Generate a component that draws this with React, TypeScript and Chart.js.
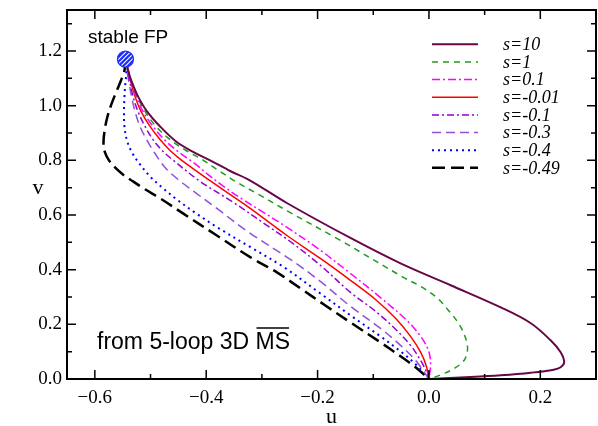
import React, { useEffect, useRef } from 'react';
import { Chart, registerables } from 'chart.js';

Chart.register(...registerables);

// ---- data (u, v) ----
const fixedPoint: [number, number] = [-0.545, 1.17];

const curveS10: [number, number][] = [
  [-0.545, 1.17], [-0.5405, 1.129], [-0.5333, 1.085], [-0.5225, 1.034], [-0.5063, 0.979],
  [-0.4829, 0.924], [-0.4541, 0.869], [-0.4236, 0.831], [-0.393, 0.8], [-0.357, 0.761],
  [-0.321, 0.726], [-0.2545, 0.643], [-0.141, 0.516], [-0.051, 0.423], [0.039, 0.343],
  [0.129, 0.262], [0.183, 0.204], [0.2185, 0.1415], [0.2365, 0.0976], [0.2428, 0.061],
  [0.2365, 0.043], [0.224, 0.034], [0.183, 0.023], [0.129, 0.0135], [0.075, 0.007], [0, 0],
];
const curveS1: [number, number][] = [
  [-0.545, 1.17], [-0.5405, 1.129], [-0.5342, 1.085], [-0.5243, 1.034], [-0.5099, 0.979],
  [-0.4901, 0.924], [-0.4649, 0.876], [-0.4362, 0.836], [-0.405, 0.8], [-0.375, 0.759],
  [-0.3444, 0.719], [-0.303, 0.672], [-0.2545, 0.615], [-0.159, 0.507], [-0.046, 0.372],
  [-0.0153, 0.339], [0.0135, 0.299], [0.0351, 0.251], [0.0531, 0.204], [0.0639, 0.16],
  [0.0692, 0.12], [0.0674, 0.087], [0.0603, 0.061], [0.0423, 0.035], [0.0207, 0.015], [0, 0],
];
const curveS01: [number, number][] = [
  [-0.545, 1.17], [-0.5405, 1.129], [-0.5351, 1.085], [-0.5261, 1.034], [-0.5135, 0.979],
  [-0.4955, 0.924], [-0.4739, 0.873], [-0.4505, 0.832], [-0.423, 0.792], [-0.3966, 0.748],
  [-0.3691, 0.705], [-0.339, 0.663], [-0.303, 0.617], [-0.255, 0.555], [-0.195, 0.471],
  [-0.141, 0.386], [-0.087, 0.298], [-0.04, 0.215], [-0.015, 0.156], [-0.001, 0.105],
  [0.003, 0.057], [0, 0],
];
const curveSm001: [number, number][] = [
  [-0.545, 1.17], [-0.5396, 1.129], [-0.5351, 1.085], [-0.5279, 1.034], [-0.5171, 0.979],
  [-0.5009, 0.924], [-0.4829, 0.876], [-0.4649, 0.836], [-0.4439, 0.8], [-0.3809, 0.708],
  [-0.321, 0.624], [-0.255, 0.525], [-0.195, 0.441], [-0.141, 0.361], [-0.096, 0.291],
  [-0.06, 0.222], [-0.033, 0.156], [-0.015, 0.098], [-0.0045, 0.046], [0, 0],
];
const curveSm01: [number, number][] = [
  [-0.545, 1.17], [-0.5414, 1.129], [-0.5369, 1.085], [-0.5315, 1.034], [-0.5225, 0.979],
  [-0.5099, 0.924], [-0.4955, 0.876], [-0.4793, 0.836], [-0.459, 0.8], [-0.411, 0.723],
  [-0.3511, 0.646], [-0.291, 0.562], [-0.2491, 0.503], [-0.195, 0.416], [-0.141, 0.317],
  [-0.096, 0.248], [-0.06, 0.182], [-0.033, 0.123], [-0.015, 0.068], [-0.004, 0.024], [0, 0],
];
const curveSm03: [number, number][] = [
  [-0.545, 1.17], [-0.5423, 1.129], [-0.5387, 1.085], [-0.5342, 1.034], [-0.5279, 0.979],
  [-0.5189, 0.924], [-0.5063, 0.873], [-0.4919, 0.825], [-0.4739, 0.774], [-0.4505, 0.73],
  [-0.42, 0.683], [-0.3809, 0.624], [-0.321, 0.533], [-0.2491, 0.438], [-0.195, 0.357],
  [-0.141, 0.266], [-0.087, 0.185], [-0.051, 0.123], [-0.024, 0.068], [0, 0],
];
const curveSm04: [number, number][] = [
  [-0.545, 1.17], [-0.5432, 1.129], [-0.545, 1.085], [-0.5468, 1.034], [-0.5477, 0.979],
  [-0.5468, 0.924], [-0.5423, 0.873], [-0.5333, 0.829], [-0.5189, 0.785], [-0.5009, 0.741],
  [-0.4793, 0.701], [-0.4529, 0.657], [-0.4182, 0.606], [-0.3809, 0.556], [-0.321, 0.483],
  [-0.2611, 0.41], [-0.195, 0.313], [-0.141, 0.233], [-0.087, 0.156], [-0.051, 0.101],
  [-0.024, 0.054], [0, 0],
];
const curveSm049: [number, number][] = [
  [-0.545, 1.17], [-0.5468, 1.129], [-0.5531, 1.092], [-0.562, 1.048], [-0.571, 1.001],
  [-0.5782, 0.953], [-0.5827, 0.906], [-0.5845, 0.862], [-0.5818, 0.829], [-0.5746, 0.8],
  [-0.5638, 0.774], [-0.5495, 0.748], [-0.5315, 0.723], [-0.5099, 0.694], [-0.4829, 0.661],
  [-0.441, 0.605], [-0.3809, 0.525], [-0.321, 0.446], [-0.273, 0.39], [-0.231, 0.332],
  [-0.186, 0.269], [-0.141, 0.207], [-0.087, 0.134], [-0.051, 0.083], [-0.024, 0.043], [0, 0],
];

const seriesLabels = ['s=10', 's=1', 's=0.1', 's=-0.01', 's=-0.1', 's=-0.3', 's=-0.4', 's=-0.49'];
const seriesData = [curveS10, curveS1, curveS01, curveSm001, curveSm01, curveSm03, curveSm04, curveSm049];

const xTickValues = [-0.6, -0.4, -0.2, 0.0, 0.2];
const yTickValues = [0.0, 0.2, 0.4, 0.6, 0.8, 1.0, 1.2];
const xMinorValues = [-0.5, -0.3, -0.1, 0.1];
const yMinorValues = [0.1, 0.3, 0.5, 0.7, 0.9, 1.1, 1.3];

const xLabel = 'u';
const yLabel = 'v';
const fpLabel = 'stable FP';
const noteText = 'from 5-loop 3D ';
const noteOver = 'MS';

// ---- styles ----
const styles = [
  { color: '#670748', width: 2, dash: [] as number[] },
  { color: '#1f9a1f', width: 1.5, dash: [6, 5] },
  { color: '#ff00ff', width: 1.5, dash: [8, 3, 2, 3] },
  { color: '#ff0000', width: 1.5, dash: [] as number[] },
  { color: '#9400d3', width: 1.5, dash: [7, 3, 2, 3] },
  { color: '#9050d8', width: 1.5, dash: [9, 5] },
  { color: '#0000ff', width: 2, dash: [2, 4] },
  { color: '#000000', width: 2.5, dash: [13, 6] },
];

const fmt = (v: number) => (v < 0 ? '\u2212' : '') + Math.abs(v).toFixed(1);

const overlay = {
  id: 'overlay',
  afterDatasetsDraw(chart: any) {
    const { ctx, chartArea: a, scales } = chart;
    const xs = scales.x;
    const ys = scales.y;
    ctx.save();
    ctx.strokeStyle = '#000';
    ctx.lineWidth = 2;
    ctx.strokeRect(a.left, a.top, a.right - a.left, a.bottom - a.top);
    ctx.lineWidth = 1.5;
    const tick = (vals: number[], len: number) => {
      vals.forEach((v) => {
        const px = xs.getPixelForValue(v);
        ctx.beginPath();
        ctx.moveTo(px, a.bottom); ctx.lineTo(px, a.bottom - len);
        ctx.moveTo(px, a.top); ctx.lineTo(px, a.top + len);
        ctx.stroke();
      });
    };
    const ytick = (vals: number[], len: number) => {
      vals.forEach((v) => {
        const py = ys.getPixelForValue(v);
        ctx.beginPath();
        ctx.moveTo(a.left, py); ctx.lineTo(a.left + len, py);
        ctx.moveTo(a.right, py); ctx.lineTo(a.right - len, py);
        ctx.stroke();
      });
    };
    tick(xTickValues, 9);
    tick(xMinorValues, 5);
    ytick(yTickValues, 9);
    ytick(yMinorValues, 5);

    // fixed point
    const cx = xs.getPixelForValue(fixedPoint[0]);
    const cy = ys.getPixelForValue(fixedPoint[1]);
    const r = 8;
    ctx.save();
    ctx.beginPath();
    ctx.arc(cx, cy, r, 0, Math.PI * 2);
    ctx.fillStyle = '#fff';
    ctx.fill();
    ctx.clip();
    ctx.strokeStyle = '#1a2cff';
    ctx.lineWidth = 2.2;
    for (let k = -4; k <= 4; k++) {
      const o = k * 4.6;
      ctx.beginPath();
      ctx.moveTo(cx + o - r - 2, cy + r + 2);
      ctx.lineTo(cx + o + r + 2, cy - r - 2);
      ctx.stroke();
    }
    ctx.restore();
    ctx.beginPath();
    ctx.arc(cx, cy, r, 0, Math.PI * 2);
    ctx.strokeStyle = '#1a2cff';
    ctx.lineWidth = 1.2;
    ctx.stroke();

    // texts
    ctx.fillStyle = '#000';
    ctx.textBaseline = 'alphabetic';
    ctx.textAlign = 'left';
    ctx.font = '19px "Liberation Sans", Arial, sans-serif';
    ctx.fillText(fpLabel, 88, 43);

    ctx.font = '23px "Liberation Sans", Arial, sans-serif';
    const nx = 97;
    const ny = 349;
    ctx.fillText(noteText, nx, ny);
    const w0 = ctx.measureText(noteText).width;
    ctx.fillText(noteOver, nx + w0, ny);
    const w1 = ctx.measureText(noteOver).width;
    ctx.lineWidth = 1.5;
    ctx.strokeStyle = '#000';
    ctx.beginPath();
    ctx.moveTo(nx + w0 + 1, 328);
    ctx.lineTo(nx + w0 + w1 - 1, 328);
    ctx.stroke();

    // axis titles
    ctx.font = '22px "Liberation Serif", "Times New Roman", serif';
    ctx.textAlign = 'center';
    ctx.fillText(xLabel, (a.left + a.right) / 2, 423);
    ctx.fillText(yLabel, 38, 194);

    // legend
    ctx.textAlign = 'left';
    ctx.textBaseline = 'middle';
    ctx.font = 'italic 18px "Liberation Serif", "Times New Roman", serif';
    seriesLabels.forEach((lab, i) => {
      const y = 44.3 + i * 17.65;
      const st = styles[i];
      ctx.save();
      ctx.strokeStyle = st.color;
      ctx.lineWidth = st.width;
      ctx.setLineDash(st.dash);
      ctx.beginPath();
      ctx.moveTo(432, y);
      ctx.lineTo(478, y);
      ctx.stroke();
      ctx.restore();
      ctx.fillStyle = '#000';
      ctx.fillText(lab, 503, y + 1);
    });
    ctx.restore();
  },
};

const zeroPad = (s: any) => {
  s.paddingTop = 0;
  s.paddingBottom = 0;
  s.paddingLeft = 0;
  s.paddingRight = 0;
};

export default function App() {
  const ref = useRef<HTMLCanvasElement | null>(null);
  useEffect(() => {
    document.body.style.margin = '0';
    const canvas = ref.current;
    if (!canvas) return;
    const chart = new Chart(canvas, {
      type: 'scatter',
      data: {
        datasets: seriesData.map((pts, i) => ({
          label: seriesLabels[i],
          data: pts.map(([x, y]) => ({ x, y })),
          showLine: true,
          borderColor: styles[i].color,
          borderWidth: styles[i].width,
          borderDash: styles[i].dash,
          pointRadius: 0,
          pointHoverRadius: 0,
          tension: 0.35,
          fill: false,
        })),
      },
      options: {
        animation: false,
        responsive: false,
        devicePixelRatio: 1,
        events: [],
        layout: { padding: { top: 10, right: 2, left: 0, bottom: 0 } },
        plugins: { legend: { display: false }, tooltip: { enabled: false }, title: { display: false } },
        scales: {
          x: {
            type: 'linear',
            min: -0.65,
            max: 0.3,
            afterBuildTicks: (s: any) => { s.ticks = xTickValues.map((v) => ({ value: v })); },
            afterFit: (s: any) => { s.height = 47; zeroPad(s); },
            grid: { display: false, drawTicks: false },
            border: { display: false },
            ticks: {
              autoSkip: false,
              maxRotation: 0,
              padding: 8,
              color: '#000',
              font: { family: '"Liberation Serif", "Times New Roman", serif', size: 19 },
              callback: (v: any) => fmt(Number(v)),
            },
          },
          y: {
            type: 'linear',
            min: 0,
            max: 1.35,
            afterBuildTicks: (s: any) => { s.ticks = yTickValues.map((v) => ({ value: v })); },
            afterFit: (s: any) => { s.width = 67; zeroPad(s); },
            grid: { display: false, drawTicks: false },
            border: { display: false },
            ticks: {
              autoSkip: false,
              padding: 5,
              color: '#000',
              font: { family: '"Liberation Serif", "Times New Roman", serif', size: 19 },
              callback: (v: any) => fmt(Number(v)),
            },
          },
        },
      },
      plugins: [overlay],
    } as any);
    return () => chart.destroy();
  }, []);
  return (
    <div style={{ position: 'absolute', left: 0, top: 0, width: 598, height: 426 }}>
      <canvas ref={ref} width={598} height={426} />
    </div>
  );
}
